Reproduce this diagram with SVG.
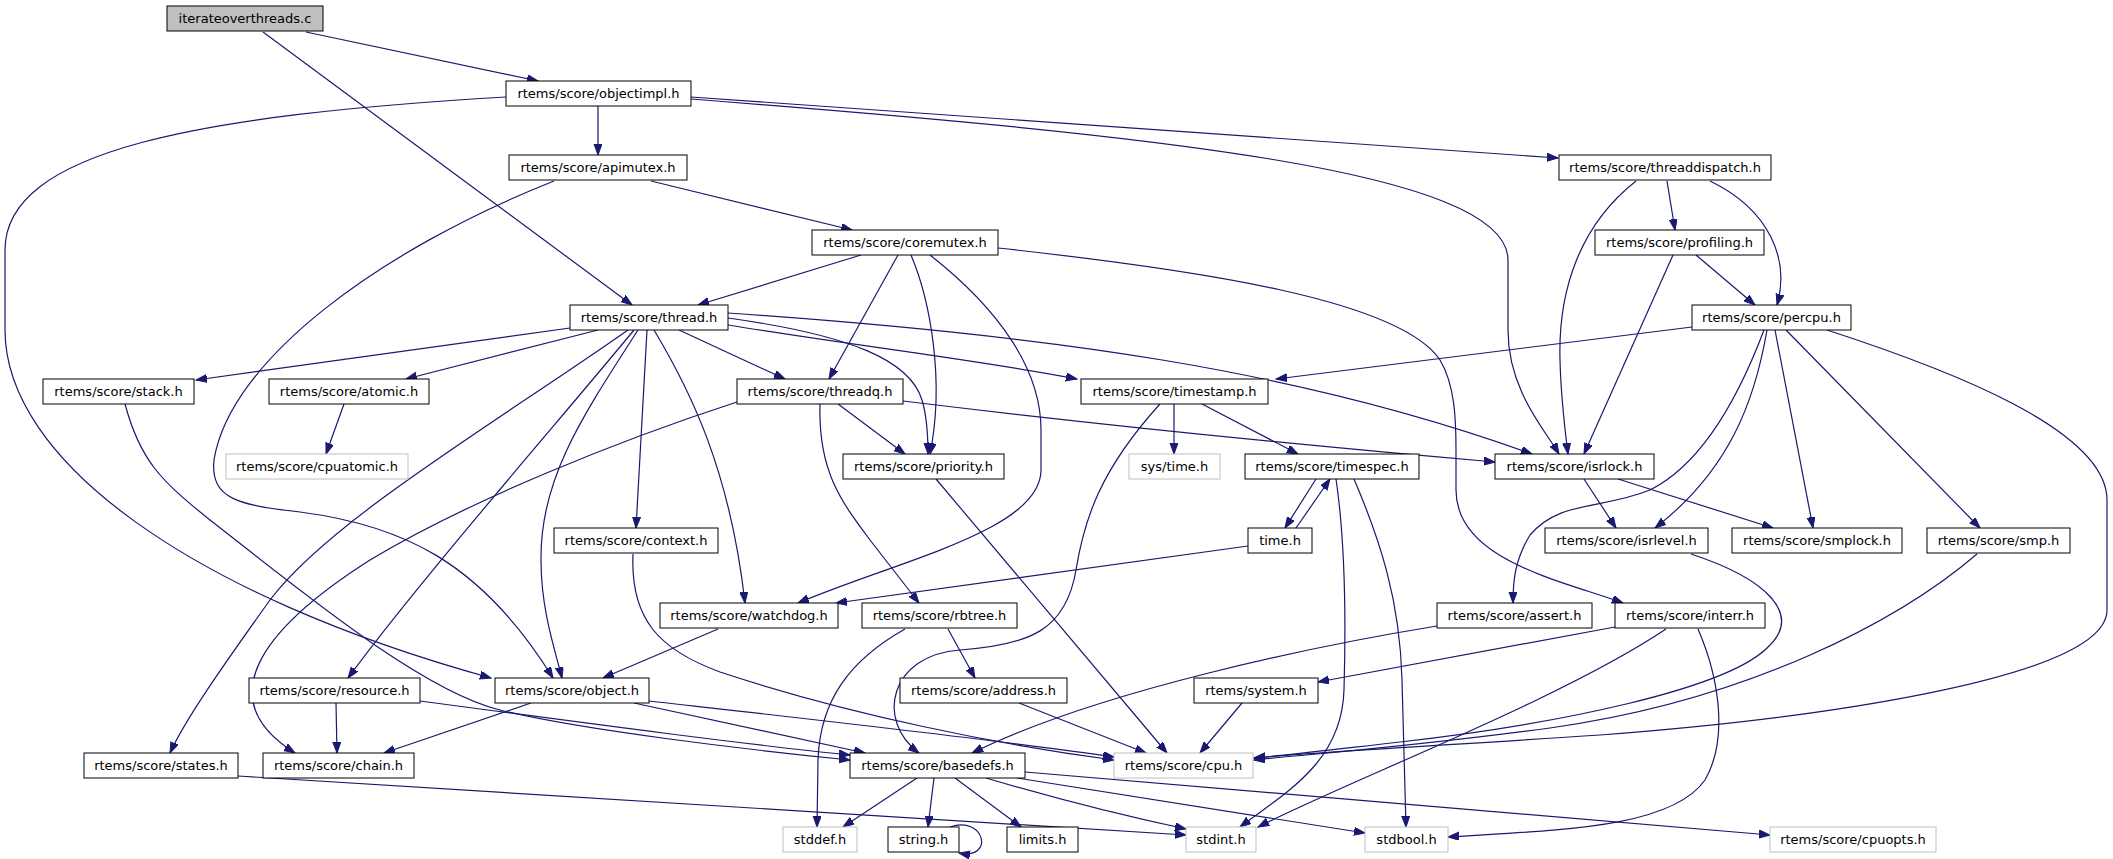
<svg xmlns="http://www.w3.org/2000/svg" width="2113" height="859" viewBox="0 0 2113 859">
<defs>
<marker id="arr" markerUnits="userSpaceOnUse" markerWidth="13" markerHeight="10" refX="11" refY="4" orient="auto">
<path d="M0,0 L11,4 L0,8 Z" fill="#191970" stroke="#191970" stroke-width="1"/>
</marker>
<style>
.node rect{fill:#ffffff;stroke:#000000;stroke-width:1}
.node.ext rect{stroke:#bfbfbf}
.node.root rect{fill:#bfbfbf}
.node text{font-family:"DejaVu Sans","Liberation Sans",sans-serif;font-size:13px;text-anchor:middle;fill:#000000}
#edges path{fill:none;stroke:#191970;stroke-width:1.2;marker-end:url(#arr)}
</style>
</defs>
<rect x="0" y="0" width="2113" height="859" fill="#ffffff"/>
<g id="edges">
<path d="M306,32 L538,81"/>
<path d="M263,32 L632,305"/>
<path d="M598,106 L598,155"/>
<path d="M506,97 C200,115 5,150 5,250 L5,330 C5,460 190,595 491,678"/>
<path d="M691,99 C1150,135 1508,170 1508,260 L1508,330 C1508,390 1545,430 1559,454"/>
<path d="M691,97 C1000,120 1300,140 1558,158"/>
<path d="M651,181 L852,230"/>
<path d="M554,181 C380,250 230,360 214,460 C210,500 240,505 300,512 C400,525 480,560 553,678"/>
<path d="M1667,181 L1675,230"/>
<path d="M1710,181 C1770,210 1790,260 1777,305"/>
<path d="M1636,181 C1580,225 1558,290 1560,360 C1561,400 1565,430 1568,454"/>
<path d="M1696,255 L1755,305"/>
<path d="M1673,255 L1584,454"/>
<path d="M861,255 L698,305"/>
<path d="M898,255 L829,379"/>
<path d="M911,255 C930,300 945,380 930,454"/>
<path d="M930,255 C1000,310 1041,370 1041,430 L1041,470 C1041,530 900,560 798,603"/>
<path d="M998,248 C1200,270 1400,300 1440,360 C1455,385 1456,420 1456,450 L1456,490 C1456,560 1560,580 1623,603"/>
<path d="M570,328 L196,380"/>
<path d="M598,330 L406,379"/>
<path d="M344,404 L326,454"/>
<path d="M679,330 L785,379"/>
<path d="M728,325 C850,345 980,360 1077,379"/>
<path d="M728,318 C850,335 910,360 922,400 C928,420 928,440 928,454"/>
<path d="M728,313 C1050,335 1300,370 1532,454"/>
<path d="M647,330 L636,528"/>
<path d="M654,330 C690,390 730,470 745,603"/>
<path d="M638,330 C580,420 540,480 541,560 C541,610 555,650 562,678"/>
<path d="M634,330 C560,420 420,580 348,678"/>
<path d="M628,330 C500,420 330,520 270,600 C220,670 185,720 170,753"/>
<path d="M737,402 C620,440 470,500 370,560 C260,630 210,700 295,753"/>
<path d="M838,404 L905,454"/>
<path d="M820,404 C818,470 840,500 870,540 L919,603"/>
<path d="M903,401 C1100,425 1300,445 1495,462"/>
<path d="M1174,404 L1174,454"/>
<path d="M1202,404 L1298,454"/>
<path d="M1160,404 C1100,470 1084,520 1076,570 C1066,630 1030,645 960,650 C890,655 875,720 919,753"/>
<path d="M1316,479 L1285,528"/>
<path d="M1296,528 L1330,479"/>
<path d="M1336,479 C1345,540 1346,620 1344,690 C1342,760 1290,790 1240,827"/>
<path d="M1354,479 C1380,540 1400,600 1402,680 L1406,827"/>
<path d="M1248,546 L836,603"/>
<path d="M1584,479 L1616,528"/>
<path d="M1618,479 L1773,528"/>
<path d="M1692,327 L1276,379"/>
<path d="M1767,330 C1755,400 1730,470 1655,528"/>
<path d="M1764,330 C1730,420 1690,470 1650,490 C1600,510 1560,500 1530,535 C1515,560 1513,580 1513,603"/>
<path d="M1775,330 L1813,528"/>
<path d="M1786,330 L1980,528"/>
<path d="M1827,330 C1950,370 2107,430 2107,500 L2107,610 C2107,680 1800,720 1600,735 C1450,745 1320,752 1254,758"/>
<path d="M1691,554 C1770,580 1800,615 1770,645 C1730,690 1550,725 1400,742 C1330,750 1290,755 1254,758"/>
<path d="M1977,554 C1900,620 1750,700 1550,728 C1400,748 1300,755 1254,760"/>
<path d="M1437,626 C1320,645 1100,690 972,753"/>
<path d="M1615,627 L1318,682"/>
<path d="M1666,629 C1560,700 1350,780 1258,827"/>
<path d="M1698,629 C1720,680 1728,740 1705,780 C1670,830 1550,830 1448,837"/>
<path d="M633,554 C630,620 660,650 720,672 C850,715 1000,745 1114,760"/>
<path d="M649,701 C800,718 1000,740 1114,757"/>
<path d="M634,703 L865,753"/>
<path d="M531,703 L384,753"/>
<path d="M336,703 L337,753"/>
<path d="M420,701 C600,725 750,745 850,755"/>
<path d="M125,404 C140,460 160,480 210,520 C300,590 420,690 500,710 C580,730 750,750 850,760"/>
<path d="M238,776 C600,800 900,815 1186,835"/>
<path d="M936,479 L1167,753"/>
<path d="M948,629 L975,678"/>
<path d="M905,629 C850,660 820,700 818,760 L817,827"/>
<path d="M1019,703 L1146,753"/>
<path d="M1242,703 L1200,753"/>
<path d="M917,778 L843,827"/>
<path d="M934,778 L928,827"/>
<path d="M955,778 L1021,827"/>
<path d="M986,778 C1060,800 1120,815 1186,829"/>
<path d="M1017,778 C1150,800 1270,818 1365,833"/>
<path d="M1025,772 C1300,795 1550,815 1770,835"/>
<path d="M950,827 C985,815 995,860 959,853"/>
<path d="M718,629 L603,678"/>
</g>
<g id="n_iterate" class="node root"><rect x="167" y="6" width="156" height="25"/><text x="245" y="22.5">iterateoverthreads.c</text></g>
<g id="n_objectimpl" class="node"><rect x="506" y="81" width="185" height="25"/><text x="598.5" y="97.5">rtems/score/objectimpl.h</text></g>
<g id="n_apimutex" class="node"><rect x="509" y="155" width="178" height="25"/><text x="598" y="171.5">rtems/score/apimutex.h</text></g>
<g id="n_threaddispatch" class="node"><rect x="1559" y="155" width="212" height="25"/><text x="1665" y="171.5">rtems/score/threaddispatch.h</text></g>
<g id="n_coremutex" class="node"><rect x="812" y="230" width="186" height="25"/><text x="905" y="246.5">rtems/score/coremutex.h</text></g>
<g id="n_profiling" class="node"><rect x="1595" y="230" width="169" height="25"/><text x="1679.5" y="246.5">rtems/score/profiling.h</text></g>
<g id="n_thread" class="node"><rect x="570" y="305" width="158" height="25"/><text x="649" y="321.5">rtems/score/thread.h</text></g>
<g id="n_percpu" class="node"><rect x="1692" y="305" width="159" height="25"/><text x="1771.5" y="321.5">rtems/score/percpu.h</text></g>
<g id="n_stack" class="node"><rect x="43" y="379" width="151" height="25"/><text x="118.5" y="395.5">rtems/score/stack.h</text></g>
<g id="n_atomic" class="node"><rect x="269" y="379" width="160" height="25"/><text x="349" y="395.5">rtems/score/atomic.h</text></g>
<g id="n_threadq" class="node"><rect x="737" y="379" width="166" height="25"/><text x="820" y="395.5">rtems/score/threadq.h</text></g>
<g id="n_timestamp" class="node"><rect x="1081" y="379" width="187" height="25"/><text x="1174.5" y="395.5">rtems/score/timestamp.h</text></g>
<g id="n_cpuatomic" class="node ext"><rect x="226" y="454" width="182" height="25"/><text x="317" y="470.5">rtems/score/cpuatomic.h</text></g>
<g id="n_priority" class="node"><rect x="843" y="454" width="161" height="25"/><text x="923.5" y="470.5">rtems/score/priority.h</text></g>
<g id="n_systime" class="node ext"><rect x="1129" y="454" width="91" height="25"/><text x="1174.5" y="470.5">sys/time.h</text></g>
<g id="n_timespec" class="node"><rect x="1245" y="454" width="174" height="25"/><text x="1332" y="470.5">rtems/score/timespec.h</text></g>
<g id="n_isrlock" class="node"><rect x="1495" y="454" width="159" height="25"/><text x="1574.5" y="470.5">rtems/score/isrlock.h</text></g>
<g id="n_context" class="node"><rect x="554" y="528" width="164" height="25"/><text x="636" y="544.5">rtems/score/context.h</text></g>
<g id="n_time" class="node"><rect x="1248" y="528" width="64" height="25"/><text x="1280" y="544.5">time.h</text></g>
<g id="n_isrlevel" class="node"><rect x="1545" y="528" width="163" height="25"/><text x="1626.5" y="544.5">rtems/score/isrlevel.h</text></g>
<g id="n_smplock" class="node"><rect x="1732" y="528" width="170" height="25"/><text x="1817" y="544.5">rtems/score/smplock.h</text></g>
<g id="n_smp" class="node"><rect x="1927" y="528" width="143" height="25"/><text x="1998.5" y="544.5">rtems/score/smp.h</text></g>
<g id="n_watchdog" class="node"><rect x="660" y="603" width="178" height="25"/><text x="749" y="619.5">rtems/score/watchdog.h</text></g>
<g id="n_rbtree" class="node"><rect x="862" y="603" width="155" height="25"/><text x="939.5" y="619.5">rtems/score/rbtree.h</text></g>
<g id="n_assert" class="node"><rect x="1437" y="603" width="155" height="25"/><text x="1514.5" y="619.5">rtems/score/assert.h</text></g>
<g id="n_interr" class="node"><rect x="1615" y="603" width="150" height="25"/><text x="1690" y="619.5">rtems/score/interr.h</text></g>
<g id="n_resource" class="node"><rect x="249" y="678" width="171" height="25"/><text x="334.5" y="694.5">rtems/score/resource.h</text></g>
<g id="n_object" class="node"><rect x="495" y="678" width="154" height="25"/><text x="572" y="694.5">rtems/score/object.h</text></g>
<g id="n_address" class="node"><rect x="900" y="678" width="167" height="25"/><text x="983.5" y="694.5">rtems/score/address.h</text></g>
<g id="n_system" class="node"><rect x="1194" y="678" width="124" height="25"/><text x="1256" y="694.5">rtems/system.h</text></g>
<g id="n_states" class="node"><rect x="84" y="753" width="154" height="25"/><text x="161" y="769.5">rtems/score/states.h</text></g>
<g id="n_chain" class="node"><rect x="263" y="753" width="151" height="25"/><text x="338.5" y="769.5">rtems/score/chain.h</text></g>
<g id="n_basedefs" class="node"><rect x="850" y="753" width="175" height="25"/><text x="937.5" y="769.5">rtems/score/basedefs.h</text></g>
<g id="n_cpu" class="node ext"><rect x="1114" y="753" width="139" height="25"/><text x="1183.5" y="769.5">rtems/score/cpu.h</text></g>
<g id="n_stddef" class="node ext"><rect x="783" y="827" width="74" height="25"/><text x="820" y="843.5">stddef.h</text></g>
<g id="n_string" class="node"><rect x="888" y="827" width="71" height="25"/><text x="923.5" y="843.5">string.h</text></g>
<g id="n_limits" class="node"><rect x="1007" y="827" width="71" height="25"/><text x="1042.5" y="843.5">limits.h</text></g>
<g id="n_stdint" class="node ext"><rect x="1186" y="827" width="70" height="25"/><text x="1221" y="843.5">stdint.h</text></g>
<g id="n_stdbool" class="node ext"><rect x="1365" y="827" width="83" height="25"/><text x="1406.5" y="843.5">stdbool.h</text></g>
<g id="n_cpuopts" class="node ext"><rect x="1770" y="827" width="166" height="25"/><text x="1853" y="843.5">rtems/score/cpuopts.h</text></g>
</svg>
